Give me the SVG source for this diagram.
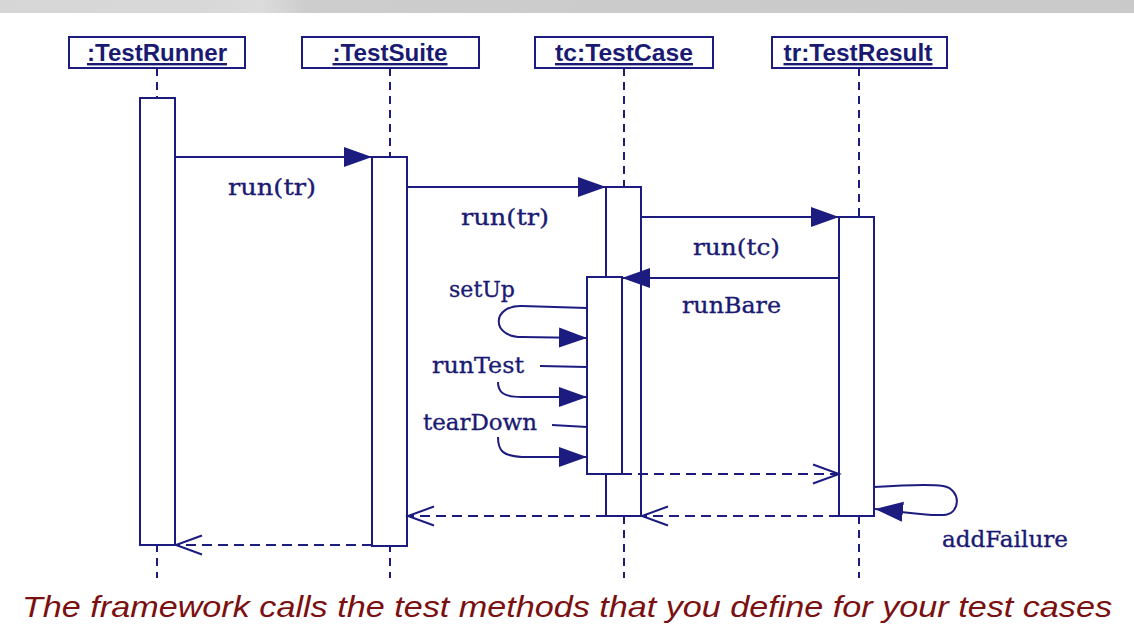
<svg xmlns="http://www.w3.org/2000/svg" width="1134" height="632" viewBox="0 0 1134 632">
<defs>
<linearGradient id="bar" x1="0" y1="0" x2="1" y2="0">
<stop offset="0" stop-color="#d6d6d6"/>
<stop offset="0.18" stop-color="#d8d8d8"/>
<stop offset="0.23" stop-color="#dcdcdc"/>
<stop offset="0.27" stop-color="#cdcdcd"/>
<stop offset="1" stop-color="#c9c9c9"/>
</linearGradient>
<marker id="fa" markerUnits="userSpaceOnUse" markerWidth="30" markerHeight="21" refX="28" refY="10.5" orient="auto">
<path d="M0,0.5 L28,10.5 L0,20.5 z" fill="#1c1c80"/>
</marker>
<marker id="oa" markerUnits="userSpaceOnUse" markerWidth="30" markerHeight="22" refX="27" refY="11" orient="auto">
<path d="M1,1.5 L27,11 L1,20.5" fill="none" stroke="#1c1c80" stroke-width="2"/>
</marker>
</defs>
<style>
.hdr{fill:#fff;stroke:#1c1c80;stroke-width:2}
.htxt{font-family:"Liberation Sans",Arial,sans-serif;font-weight:bold;font-size:24px;fill:#1a1a72;text-decoration:underline;text-anchor:middle}
.life{stroke:#1c1c80;stroke-width:2;stroke-dasharray:8 6;fill:none}
.act{fill:#fff;stroke:#1c1c80;stroke-width:2}
.msg{stroke:#1c1c80;stroke-width:2;fill:none}
.ret{stroke:#1c1c80;stroke-width:2;fill:none;stroke-dasharray:10 6}
.lbl{font-family:"DejaVu Serif","Liberation Serif",serif;font-size:23px;fill:#1a1a72;stroke:#1a1a72;stroke-width:0.35}
.cap{font-family:"Liberation Sans",Arial,sans-serif;font-style:italic;font-size:30px;fill:#7a1010}
</style>
<rect x="0" y="0" width="1134" height="13" fill="url(#bar)"/>
<rect x="0" y="13" width="1134" height="619" fill="#fff"/>

<g id="testrunner">
<line class="life" x1="157" y1="68" x2="157" y2="578"/>
<rect class="hdr" x="69" y="37" width="176" height="31"/>
<text class="htxt" x="157" y="61" textLength="140" lengthAdjust="spacingAndGlyphs">:TestRunner</text>
<rect class="act" x="140" y="98" width="35" height="447"/>
</g>

<g id="testsuite">
<line class="life" x1="390" y1="68" x2="390" y2="578"/>
<rect class="hdr" x="302" y="37" width="177" height="31"/>
<text class="htxt" x="390" y="61" textLength="115" lengthAdjust="spacingAndGlyphs">:TestSuite</text>
<rect class="act" x="372" y="157" width="35" height="389"/>
</g>

<g id="testcase">
<line class="life" x1="624" y1="68" x2="624" y2="578"/>
<rect class="hdr" x="535" y="37" width="178" height="31"/>
<text class="htxt" x="624" y="61" textLength="138" lengthAdjust="spacingAndGlyphs">tc:TestCase</text>
<rect class="act" x="606" y="187" width="35" height="329"/>
<rect id="testcase-runbare" class="act" x="587" y="277" width="35" height="197"/>
</g>

<g id="testresult">
<line class="life" x1="859" y1="68" x2="859" y2="578"/>
<rect class="hdr" x="772" y="37" width="175" height="31"/>
<text class="htxt" x="858" y="61" textLength="149" lengthAdjust="spacingAndGlyphs">tr:TestResult</text>
<rect class="act" x="839" y="217" width="35" height="299"/>
</g>

<g id="connectors">
<path class="msg" d="M175,157 L372,157" marker-end="url(#fa)"/>
<text class="lbl" x="228" y="195" textLength="88" lengthAdjust="spacingAndGlyphs">run(tr)</text>

<path class="msg" d="M407,187 L606,187" marker-end="url(#fa)"/>
<text class="lbl" x="461" y="225" textLength="88" lengthAdjust="spacingAndGlyphs">run(tr)</text>

<path class="msg" d="M641,217 L839,217" marker-end="url(#fa)"/>
<text class="lbl" x="693" y="255" textLength="87" lengthAdjust="spacingAndGlyphs">run(tc)</text>

<path class="msg" d="M839,278 L622,278" marker-end="url(#fa)"/>
<text class="lbl" x="682" y="313" textLength="99" lengthAdjust="spacingAndGlyphs">runBare</text>

<path class="msg" d="M587,308 L522,306 C492,305 490,337 522,337 L587,338" marker-end="url(#fa)"/>
<text class="lbl" x="449" y="297" textLength="66" lengthAdjust="spacingAndGlyphs">setUp</text>

<path class="msg" d="M540,366 L587,367"/>
<path class="msg" d="M498,382 C498,392 503,397 522,397 L587,397" marker-end="url(#fa)"/>
<text class="lbl" x="432" y="373" textLength="92" lengthAdjust="spacingAndGlyphs">runTest</text>

<path class="msg" d="M552,425 L587,427"/>
<path class="msg" d="M498,437 C498,451 503,456 522,457 L587,457" marker-end="url(#fa)"/>
<text class="lbl" x="423" y="430" textLength="114" lengthAdjust="spacingAndGlyphs">tearDown</text>

<path class="ret" d="M622,474 L839,474" marker-end="url(#oa)"/>
<path class="ret" d="M839,516 L642,516" marker-end="url(#oa)"/>
<path class="ret" d="M606,516 L408,516" marker-end="url(#oa)"/>
<path class="ret" d="M372,545 L176,545" marker-end="url(#oa)"/>

<path class="msg" d="M874,487 C905,485 930,484 943,486 C962,489 961,515 943,515 C925,516 905,512 875,509" marker-end="url(#fa)"/>
<text class="lbl" x="942" y="547" textLength="126" lengthAdjust="spacingAndGlyphs">addFailure</text>
</g>

<text class="cap" x="22" y="617" textLength="1090" lengthAdjust="spacingAndGlyphs">The framework calls the test methods that you define for your test cases</text>
</svg>
